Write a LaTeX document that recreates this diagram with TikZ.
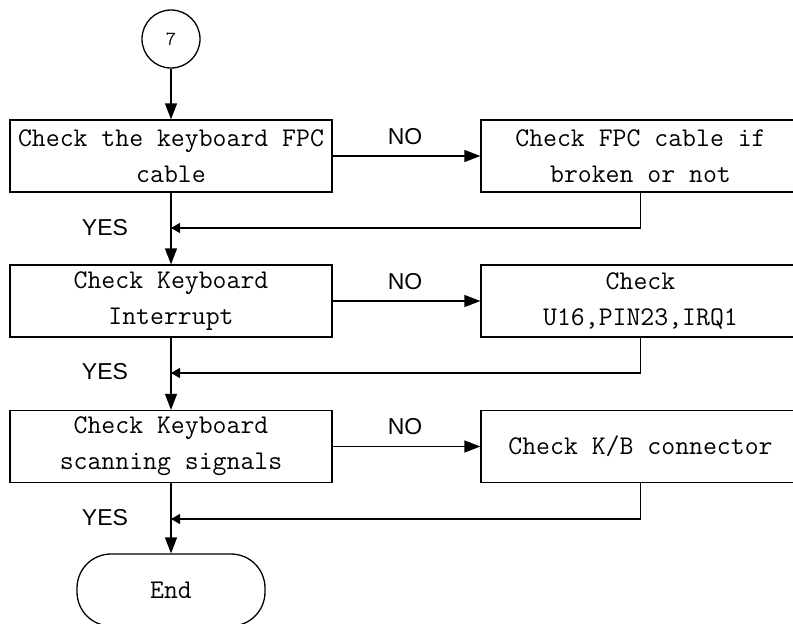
\documentclass[tikz,border=0pt]{standalone}
\usepackage{fontspec}
\usetikzlibrary{arrows.meta}
\newfontfamily\lblfont{Liberation Sans}
\tikzset{
  boxtxt/.style={font=\fontsize{27}{36}\selectfont\ttfamily, align=center},
  leftbox/.style={draw, boxtxt, inner sep=0pt, minimum width=322pt, minimum height=72pt},
  rightbox/.style={draw, boxtxt, inner sep=0pt, minimum width=319pt, minimum height=72pt},
  lbl/.style={font=\lblfont\fontsize{23}{23}\selectfont, inner sep=0pt},
  bigarr/.style={-{Triangle[length=16pt,width=12pt]}},
  smallarr/.style={-{Triangle[length=9pt,width=10pt]}},
}
\begin{document}
\begin{tikzpicture}[x=1pt, y=-1pt, line width=1.3pt]
\useasboundingbox (0,0) rectangle (793,624);
\clip (0,0) rectangle (793,624);
\node[draw, circle, minimum size=58pt, inner sep=0pt, font=\fontsize{20}{20}\selectfont\ttfamily] (c7) at (171,39) {7};

\node[leftbox] (b1) at (171,156) {Check the keyboard FPC\\cable};
\node[rightbox] (r1) at (640.5,156) {Check FPC cable if\\broken or not};
\node[leftbox] (b2) at (171,301) {Check Keyboard\\Interrupt};
\node[rightbox] (r2) at (640.5,301) {Check\\U16,PIN23,IRQ1};
\node[leftbox] (b3) at (171,446.5) {Check Keyboard\\scanning signals};
\node[rightbox] (r3) at (640.5,446.5) {Check K/B connector};
\node[draw, boxtxt, rounded corners=34pt, minimum width=188pt, minimum height=72pt, inner sep=0pt] (e) at (171,590) {End};

\coordinate (j1) at (171,228);
\coordinate (j2) at (171,373);
\coordinate (j3) at (171,519);

\draw[bigarr] (c7.south) -- (b1.north);
\draw[bigarr] (b1.south) -- (b2.north);
\draw[bigarr] (b2.south) -- (b3.north);
\draw[bigarr] (b3.south) -- (e.north);

\draw[bigarr] (b1.east) -- (r1.west);
\draw[bigarr] (b2.east) -- (r2.west);
\draw[bigarr] (b3.east) -- (r3.west);

\draw[smallarr] (r1.south) |- (j1);
\draw[smallarr] (r2.south) |- (j2);
\draw[smallarr] (r3.south) |- (j3);

\node[lbl] (no1) at (405,137) {NO};
\node[lbl] (no2) at (405,282) {NO};
\node[lbl] (no3) at (405,427) {NO};
\node[lbl] (yes1) at (105,228) {YES};
\node[lbl] (yes2) at (105,372) {YES};
\node[lbl] (yes3) at (105,518) {YES};
\end{tikzpicture}
\end{document}
